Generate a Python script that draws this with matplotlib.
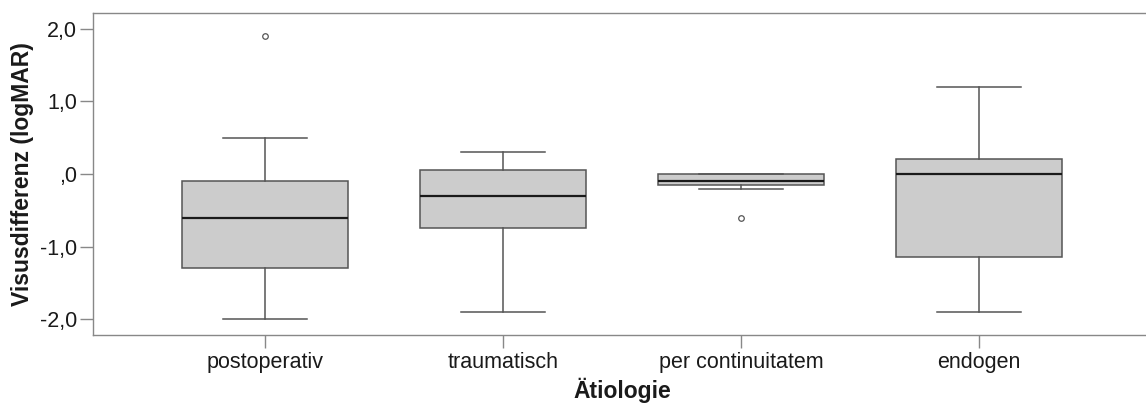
import matplotlib
matplotlib.use("Agg")
import matplotlib.pyplot as plt

categories = ["postoperativ", "traumatisch", "per continuitatem", "endogen"]
q1 = [-1.30, -0.75, -0.15, -1.15]
median = [-0.60, -0.30, -0.10, 0.00]
q3 = [-0.10, 0.05, 0.00, 0.20]
whisker_low = [-2.00, -1.90, -0.20, -1.90]
whisker_high = [0.50, 0.30, 0.00, 1.20]
outliers = [[1.90], [], [-0.60], []]
yticks = [-2.0, -1.0, 0.0, 1.0, 2.0]
ytick_labels = ["-2,0", "-1,0", ",0", "1,0", "2,0"]

plt.rcParams['font.family'] = ['Liberation Sans', 'DejaVu Sans']

fig = plt.figure(figsize=(11.46, 4.03), dpi=100)
ax = fig.add_axes([93/1146, 68/403, (1151-93)/1146, (335-13)/403])

stats = []
for i, c in enumerate(categories):
    stats.append(dict(label=c, q1=q1[i], med=median[i], q3=q3[i],
                      whislo=whisker_low[i], whishi=whisker_high[i],
                      fliers=outliers[i]))

edge = "#555555"
ax.bxp(stats, positions=[1, 2, 3, 4], widths=0.70, patch_artist=True,
       showfliers=True, capwidths=0.35,
       boxprops=dict(facecolor="#cccccc", edgecolor=edge, linewidth=1.1),
       medianprops=dict(color="#1a1a1a", linewidth=1.6),
       whiskerprops=dict(color=edge, linewidth=1.1),
       capprops=dict(color=edge, linewidth=1.1),
       flierprops=dict(marker="o", markersize=4, markerfacecolor="white",
                       markeredgecolor="#555555", markeredgewidth=0.9))

ax.set_xlim(1 - 172/238, 4 + 172/238)
ax.set_ylim(-2.22, 2.22)
ax.set_yticks(yticks)
ax.set_yticklabels(ytick_labels)
ax.set_xticks([1, 2, 3, 4])
ax.set_xticklabels(categories)

for s in ["left", "top", "bottom"]:
    ax.spines[s].set_color("#888888")
    ax.spines[s].set_linewidth(1.0)
ax.spines["right"].set_visible(False)

ax.tick_params(axis="both", colors="#888888", length=9.5, width=1.0,
               labelsize=15.5, labelcolor="#1a1a1a")
ax.tick_params(axis="y", pad=2)
ax.tick_params(axis="x", pad=3)

ax.set_ylabel("Visusdifferenz (logMAR)", fontsize=16.5, fontweight="bold",
              color="#1a1a1a", labelpad=4)
ax.set_xlabel("Ätiologie", fontsize=16.5, fontweight="bold", color="#1a1a1a",
              labelpad=3)

fig.savefig("out.png", dpi=100)
